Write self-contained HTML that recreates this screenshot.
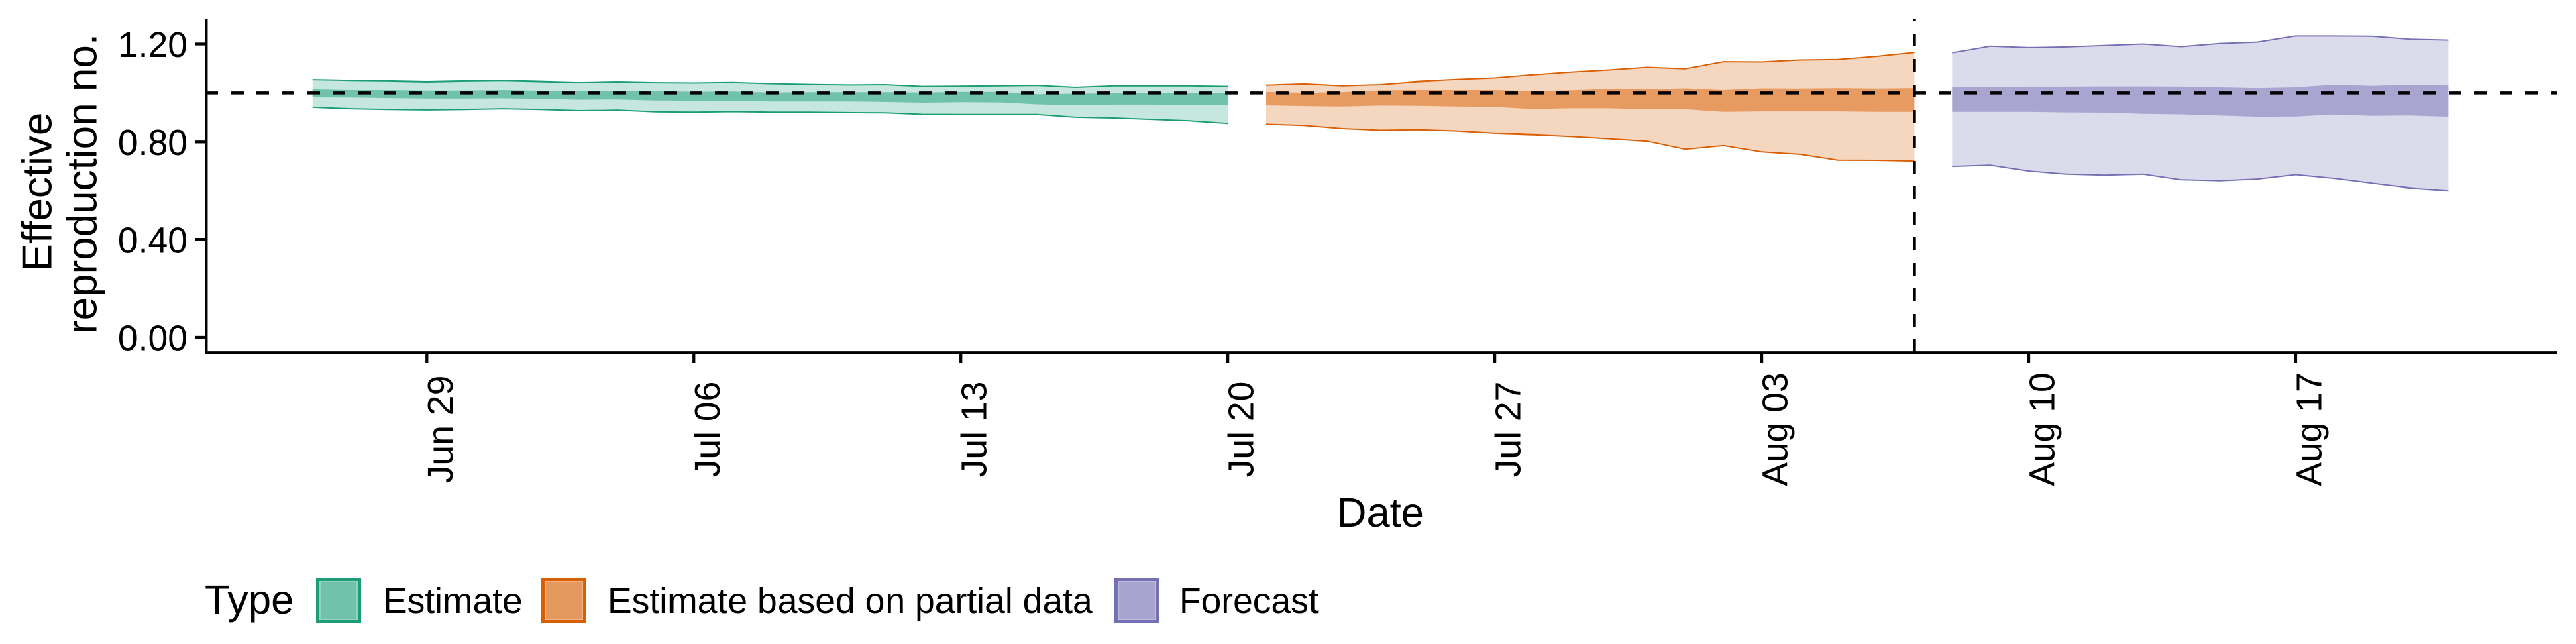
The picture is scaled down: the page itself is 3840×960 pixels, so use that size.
<!DOCTYPE html>
<html lang="en">
<head>
<meta charset="utf-8">
<title>Effective reproduction number</title>
<style>
html,body{margin:0;padding:0;background:#fff;}
svg{display:block;}
text{font-family:"Liberation Sans",Arial,sans-serif;fill:#000;}
</style>
</head>
<body>
<svg id="chart" xmlns="http://www.w3.org/2000/svg" width="3840" height="960" viewBox="0 0 3840 960">
  <rect x="0" y="0" width="3840" height="960" fill="#ffffff"/>
  <g id="marks"></g>
  <g id="axes"></g>
  <text transform="translate(76.5,286) rotate(-90)" text-anchor="middle" font-size="62">Effective</text>
  <text transform="translate(143.5,274) rotate(-90)" text-anchor="middle" font-size="62">reproduction no.</text>
  <text x="2058" y="785" text-anchor="middle" font-size="61.5">Date</text>
  <g>
    <text x="305" y="915" font-size="61.5">Type</text>
    <g>
      <rect x="473.5" y="863.5" width="62" height="63" fill="#70C2AA" stroke="#1B9E77" stroke-width="5"/>
      <rect x="477" y="867" width="55" height="56" fill="none" stroke="#96D0BF" stroke-width="2"/>
      <text x="571" y="914" font-size="53.4">Estimate</text>
    </g>
    <g>
      <rect x="809.5" y="863.5" width="62" height="63" fill="#E6995E" stroke="#D95F02" stroke-width="5"/>
      <rect x="813" y="867" width="55" height="56" fill="none" stroke="#EDB48A" stroke-width="2"/>
      <text x="906" y="914" font-size="53.5">Estimate based on partial data</text>
    </g>
    <g>
      <rect x="1663.5" y="863.5" width="62" height="63" fill="#A8A4CF" stroke="#7570B3" stroke-width="5"/>
      <rect x="1667" y="867" width="55" height="56" fill="none" stroke="#BFBCDC" stroke-width="2"/>
      <text x="1758" y="914" font-size="53.4">Forecast</text>
    </g>
  </g>
</svg>
<script>
// --- Chart data ---
const estimateDates = ['06-26','06-27','06-28','06-29','06-30','07-01','07-02','07-03','07-04','07-05','07-06','07-07','07-08','07-09','07-10','07-11','07-12','07-13','07-14','07-15','07-16','07-17','07-18','07-19','07-20'];
const estimateUpper90 = [1.053,1.050,1.048,1.045,1.048,1.050,1.046,1.042,1.045,1.042,1.041,1.043,1.038,1.035,1.033,1.034,1.027,1.028,1.029,1.031,1.023,1.029,1.029,1.029,1.027];
const estimateLower90 = [0.941,0.935,0.932,0.930,0.932,0.935,0.932,0.927,0.929,0.922,0.921,0.923,0.921,0.921,0.919,0.918,0.912,0.911,0.911,0.911,0.900,0.897,0.891,0.885,0.874];
const estimateUpper50 = [1.015,1.012,1.012,1.010,1.010,1.012,1.009,1.007,1.007,1.007,1.005,1.006,1.002,1.003,1.003,1.003,1.002,1.004,1.004,0.995,0.997,0.998,1.000,1.001,1.001];
const estimateLower50 = [0.982,0.981,0.979,0.977,0.977,0.978,0.976,0.972,0.973,0.969,0.968,0.967,0.965,0.965,0.965,0.963,0.960,0.962,0.961,0.953,0.949,0.952,0.952,0.950,0.949];

const partialDates = ['07-21','07-22','07-23','07-24','07-25','07-26','07-27','07-28','07-29','07-30','07-31','08-01','08-02','08-03','08-04','08-05','08-06','08-07'];
const partialUpper90 = [1.032,1.037,1.029,1.034,1.046,1.054,1.060,1.073,1.084,1.093,1.104,1.098,1.127,1.126,1.134,1.136,1.149,1.165];
const partialLower90 = [0.871,0.866,0.853,0.846,0.848,0.843,0.834,0.829,0.822,0.813,0.803,0.770,0.785,0.759,0.749,0.725,0.724,0.721];
const partialUpper50 = [1.004,1.001,1.003,1.011,1.012,1.012,1.012,1.008,1.011,1.017,1.015,1.019,1.012,1.019,1.018,1.020,1.018,1.020];
const partialLower50 = [0.949,0.946,0.944,0.948,0.947,0.944,0.942,0.934,0.937,0.937,0.933,0.933,0.922,0.924,0.924,0.924,0.922,0.922];

const forecastDates = ['08-08','08-09','08-10','08-11','08-12','08-13','08-14','08-15','08-16','08-17','08-18','08-19','08-20','08-21'];
const forecastUpper90 = [1.164,1.191,1.185,1.188,1.194,1.200,1.189,1.202,1.208,1.233,1.233,1.232,1.220,1.216];
const forecastLower90 = [0.699,0.704,0.680,0.667,0.663,0.667,0.644,0.640,0.647,0.665,0.650,0.630,0.611,0.600];
const forecastUpper50 = [1.023,1.023,1.026,1.026,1.027,1.027,1.026,1.023,1.020,1.023,1.034,1.029,1.034,1.031];
const forecastLower50 = [0.922,0.922,0.922,0.920,0.919,0.914,0.912,0.907,0.902,0.903,0.911,0.906,0.907,0.902];

const yTickValues = [0, 0.4, 0.8, 1.2];
const yTickLabels = ['0.00', '0.40', '0.80', '1.20'];
const xTickDates = ['06-29','07-06','07-13','07-20','07-27','08-03','08-10','08-17'];
const xTickLabels = ['Jun 29','Jul 06','Jul 13','Jul 20','Jul 27','Aug 03','Aug 10','Aug 17'];
const referenceValue = 1;
const forecastDate = '08-07';

// --- Axis functions ---
const SVG_NS = 'http://www.w3.org/2000/svg';
function dayNumber(md) {
  const parts = md.split('-');
  return (Date.UTC(2020, Number(parts[0]) - 1, Number(parts[1])) - Date.UTC(2020, 5, 29)) / 86400000;
}
function xScale(md) { return 636.3 + 56.85 * dayNumber(md); }
function yScale(v) { return 503 - 364.6 * v; }

function make(tag, parent) {
  const el = document.createElementNS(SVG_NS, tag);
  parent.appendChild(el);
  return el;
}

const marks = document.getElementById('marks');
const axes = document.getElementById('axes');

function ribbonPath(dates, upper, lower) {
  const top = dates.map((d, i) => xScale(d).toFixed(1) + ',' + yScale(upper[i]).toFixed(1));
  const bottom = dates.map((d, i) => xScale(d).toFixed(1) + ',' + yScale(lower[i]).toFixed(1)).reverse();
  return 'M' + top.join('L') + 'L' + bottom.join('L') + 'Z';
}
function linePath(dates, values) {
  return 'M' + dates.map((d, i) => xScale(d).toFixed(1) + ',' + yScale(values[i]).toFixed(1)).join('L');
}
function drawSeries(name, color, dates, up90, lo90, up50, lo50) {
  const outer = make('path', marks);
  
  
  outer.setAttribute('d', ribbonPath(dates, up90, lo90));
  outer.setAttribute('fill', color);
  outer.setAttribute('fill-opacity', '0.25');

  const inner = make('path', marks);
  
  
  inner.setAttribute('d', ribbonPath(dates, up50, lo50));
  inner.setAttribute('fill', color);
  inner.setAttribute('fill-opacity', '0.5');

  const upLine = make('path', marks);
  
  
  upLine.setAttribute('d', linePath(dates, up90));
  upLine.setAttribute('fill', 'none');
  upLine.setAttribute('stroke', color);
  upLine.setAttribute('stroke-width', '2');

  const loLine = make('path', marks);
  
  
  loLine.setAttribute('d', linePath(dates, lo90));
  loLine.setAttribute('fill', 'none');
  loLine.setAttribute('stroke', color);
  loLine.setAttribute('stroke-width', '2');
}
drawSeries('estimate', '#1B9E77', estimateDates, estimateUpper90, estimateLower90, estimateUpper50, estimateLower50);
drawSeries('partial', '#D95F02', partialDates, partialUpper90, partialLower90, partialUpper50, partialLower50);
drawSeries('forecast', '#7570B3', forecastDates, forecastUpper90, forecastLower90, forecastUpper50, forecastLower50);

// Reference lines
const refLine = make('line', marks);


refLine.setAttribute('x1', 306);
refLine.setAttribute('x2', 3811);
refLine.setAttribute('y1', yScale(referenceValue));
refLine.setAttribute('y2', yScale(referenceValue));
refLine.setAttribute('stroke', '#000');
refLine.setAttribute('stroke-width', '4.5');
refLine.setAttribute('stroke-dasharray', '19 19');

const forecastLine = make('line', marks);


forecastLine.setAttribute('x1', xScale(forecastDate));
forecastLine.setAttribute('x2', xScale(forecastDate));
forecastLine.setAttribute('y1', 525);
forecastLine.setAttribute('y2', 28.5);
forecastLine.setAttribute('stroke', '#000');
forecastLine.setAttribute('stroke-width', '4.5');
forecastLine.setAttribute('stroke-dasharray', '19 19');

// Axis lines
const yAxisLine = make('line', axes);


yAxisLine.setAttribute('x1', 307.3);
yAxisLine.setAttribute('x2', 307.3);
yAxisLine.setAttribute('y1', 28.5);
yAxisLine.setAttribute('y2', 527);
yAxisLine.setAttribute('stroke', '#000');
yAxisLine.setAttribute('stroke-width', '4.3');

const xAxisLine = make('line', axes);


xAxisLine.setAttribute('x1', 305);
xAxisLine.setAttribute('x2', 3811);
xAxisLine.setAttribute('y1', 525.3);
xAxisLine.setAttribute('y2', 525.3);
xAxisLine.setAttribute('stroke', '#000');
xAxisLine.setAttribute('stroke-width', '4.3');

// Y ticks
yTickValues.forEach(function (v, i) {
  const tick = make('line', axes);
  
  
  tick.setAttribute('x1', 291);
  tick.setAttribute('x2', 307);
  tick.setAttribute('y1', yScale(v));
  tick.setAttribute('y2', yScale(v));
  tick.setAttribute('stroke', '#000');
  tick.setAttribute('stroke-width', '4.3');

  const label = make('text', axes);
  
  
  label.setAttribute('x', 280);
  label.setAttribute('y', yScale(v) + 19.5);
  label.setAttribute('text-anchor', 'end');
  label.setAttribute('font-size', '53.5');
  label.textContent = yTickLabels[i];
});

// X ticks
xTickDates.forEach(function (d, i) {
  const x = xScale(d);
  const tick = make('line', axes);
  
  
  tick.setAttribute('x1', x);
  tick.setAttribute('x2', x);
  tick.setAttribute('y1', 525);
  tick.setAttribute('y2', 541);
  tick.setAttribute('stroke', '#000');
  tick.setAttribute('stroke-width', '4.3');

  const label = make('text', axes);
  
  
  label.setAttribute('transform', 'translate(' + (x + 38.5) + ',640) rotate(-90)');
  label.setAttribute('text-anchor', 'middle');
  label.setAttribute('font-size', '53.5');
  label.textContent = xTickLabels[i];
});
</script>
</body>
</html>
